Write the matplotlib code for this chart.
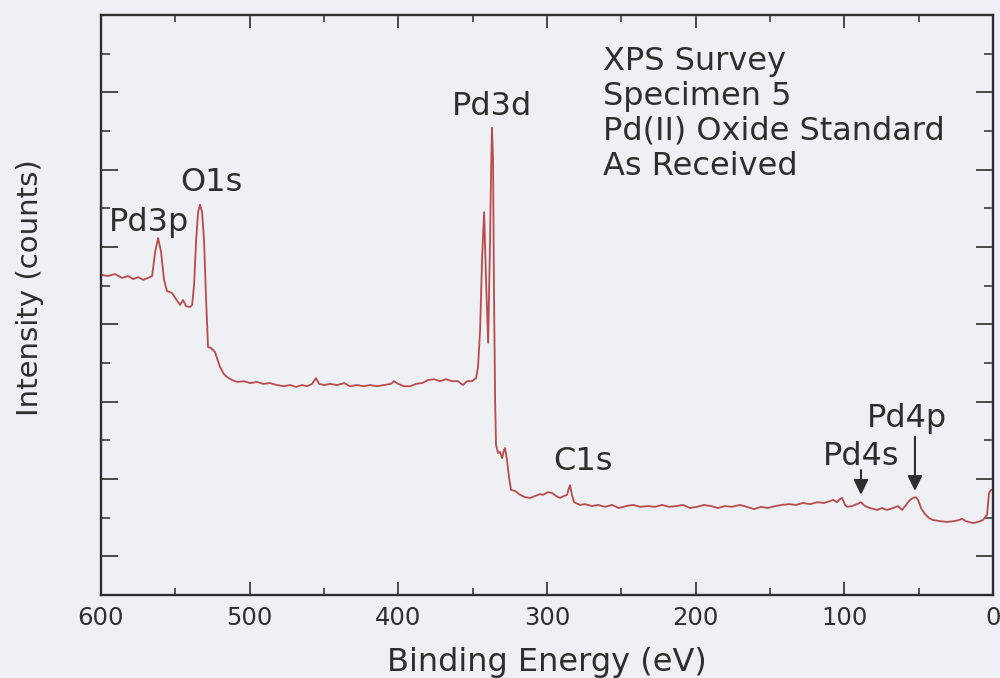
import matplotlib
matplotlib.use("Agg")
import matplotlib.pyplot as plt
from matplotlib.ticker import MultipleLocator, FixedLocator, NullFormatter
import numpy as np

# XPS survey, Pd(II) oxide standard, specimen 5 (as received)
binding_energy = [
    600.0, 595.3, 590.6, 585.8, 581.7, 578.4, 575.0, 571.7, 568.3, 565.6,
    563.6, 561.6, 559.6, 557.6, 555.6, 552.2, 549.5, 546.8, 544.8, 542.8,
    540.1, 538.7, 537.4, 536.0, 534.7, 533.4, 532.0, 530.7, 529.3, 528.0,
    526.0, 523.3, 520.0, 517.3, 515.3, 511.8, 508.4, 503.8, 499.7, 495.0,
    491.0, 486.3, 481.6, 476.9, 472.8, 468.8, 464.8, 461.4, 458.0, 455.4,
    453.3, 450.0, 446.0, 441.2, 436.5, 432.5, 427.8, 423.1, 419.0, 414.3,
    409.6, 404.9, 402.9, 400.2, 396.2, 392.1, 388.1, 384.1, 380.0, 376.0,
    372.0, 367.9, 363.9, 359.9, 356.5, 353.8, 350.4, 347.7, 346.4, 345.0,
    343.7, 342.3, 341.0, 339.6, 338.3, 337.6, 337.0, 336.3, 335.6, 334.9,
    334.3, 332.9, 331.6, 330.2, 328.9, 328.2, 326.9, 325.5, 324.2, 321.5,
    318.1, 314.8, 311.4, 308.1, 304.7, 302.7, 299.3, 296.6, 293.9, 291.3,
    288.6, 286.5, 285.2, 284.5, 283.2, 281.8, 277.8, 274.4, 269.7, 265.7,
    261.0, 256.3, 251.6, 246.9, 242.1, 237.4, 232.1, 227.4, 222.6, 217.9,
    213.2, 208.5, 203.8, 199.1, 194.4, 189.7, 185.0, 180.3, 175.6, 170.2,
    165.5, 160.8, 156.0, 151.3, 146.6, 141.9, 137.2, 132.5, 127.8, 123.1,
    118.4, 113.7, 109.6, 107.6, 104.9, 102.9, 101.6, 99.5, 98.2, 94.8,
    91.5, 88.8, 86.1, 82.7, 78.0, 74.7, 71.3, 67.3, 63.9, 61.2,
    58.5, 55.8, 53.8, 51.8, 50.4, 48.4, 45.7, 43.0, 40.4, 35.7,
    30.9, 26.2, 22.9, 20.9, 18.2, 13.5, 10.1, 6.7, 4.0, 2.7,
    1.3, 0.0,
]
intensity = [
    8.28, 8.25, 8.30, 8.20, 8.25, 8.17, 8.22, 8.15, 8.20, 8.25,
    8.87, 9.23, 8.87, 8.15, 7.86, 7.81, 7.65, 7.50, 7.63, 7.47,
    7.45, 7.50, 8.02, 9.18, 9.90, 10.09, 9.90, 9.18, 7.63, 6.41,
    6.39, 6.28, 5.90, 5.71, 5.64, 5.56, 5.51, 5.53, 5.48, 5.51,
    5.46, 5.48, 5.43, 5.40, 5.43, 5.38, 5.43, 5.40, 5.46, 5.61,
    5.46, 5.43, 5.46, 5.43, 5.48, 5.40, 5.43, 5.40, 5.43, 5.40,
    5.43, 5.46, 5.53, 5.46, 5.40, 5.40, 5.46, 5.48, 5.56, 5.58,
    5.53, 5.58, 5.53, 5.53, 5.43, 5.53, 5.53, 5.61, 5.90, 6.85,
    8.66, 9.90, 8.15, 6.52, 9.18, 10.99, 12.08, 11.25, 7.63, 5.04,
    3.88, 3.67, 3.70, 3.54, 3.75, 3.80, 3.49, 3.03, 2.72, 2.69,
    2.59, 2.53, 2.51, 2.56, 2.61, 2.59, 2.66, 2.64, 2.56, 2.51,
    2.56, 2.59, 2.77, 2.84, 2.59, 2.40, 2.33, 2.35, 2.30, 2.33,
    2.28, 2.33, 2.25, 2.30, 2.33, 2.28, 2.30, 2.28, 2.33, 2.28,
    2.30, 2.33, 2.25, 2.28, 2.33, 2.30, 2.25, 2.30, 2.28, 2.33,
    2.28, 2.22, 2.28, 2.25, 2.30, 2.33, 2.35, 2.33, 2.38, 2.35,
    2.40, 2.38, 2.43, 2.46, 2.40, 2.48, 2.51, 2.33, 2.28, 2.30,
    2.35, 2.40, 2.30, 2.25, 2.20, 2.25, 2.20, 2.25, 2.30, 2.20,
    2.33, 2.46, 2.51, 2.53, 2.46, 2.25, 2.09, 1.99, 1.94, 1.91,
    1.89, 1.91, 1.94, 1.97, 1.91, 1.86, 1.89, 1.94, 2.07, 2.64,
    2.72, 2.72,
]

# peak labels: (text, energy of left edge, baseline height)
peak_labels = ["Pd3p", "O1s", "Pd3d", "C1s", "Pd4s", "Pd4p"]
label_x = [594.5, 546.9, 363.9, 296.0, 114.3, 84.8]
label_y = [9.41, 10.45, 12.41, 3.23, 3.36, 4.34]

# arrows pointing at the weak Pd 4s / 4p lines: (energy, tail, head)
arrow_energy = [88.8, 52.5]
arrow_tail = [3.23, 4.09]
arrow_head = [2.59, 2.69]

info_lines = ["XPS Survey", "Specimen 5", "Pd(II) Oxide Standard", "As Received"]

BG = "#eff0f4"
INK = "#2e2e2e"
TRACE = "#b94b4d"

plt.rcParams["font.family"] = ["DejaVu Sans"]

fig = plt.figure(figsize=(10.0, 6.78), dpi=100, facecolor=BG)
ax = fig.add_axes([0.101, 0.1224, 0.892, 0.8555])
ax.set_facecolor(BG)

ax.plot(binding_energy, intensity, color=TRACE, lw=1.3)

ax.set_xlim(600, 0)
ax.set_ylim(0, 15)

ax.xaxis.set_major_locator(MultipleLocator(100))
ax.xaxis.set_minor_locator(MultipleLocator(50))
ax.yaxis.set_major_locator(FixedLocator(np.arange(1, 15, 2)))
ax.yaxis.set_minor_locator(FixedLocator(np.arange(2, 15, 2)))
ax.yaxis.set_major_formatter(NullFormatter())

ax.tick_params(axis="x", which="major", direction="in", length=9.5, width=1.2,
               top=True, bottom=True, colors=INK, labelsize=17.5, pad=8)
ax.tick_params(axis="x", which="minor", direction="in", length=5, width=1.1,
               top=True, bottom=True, colors=INK)
ax.tick_params(axis="y", which="major", direction="in", length=12.5, width=1.2,
               left=True, right=True, colors=INK)
ax.tick_params(axis="y", which="minor", direction="in", length=6.5, width=1.1,
               left=True, right=True, colors=INK)

for sp in ax.spines.values():
    sp.set_linewidth(1.7)
    sp.set_color(INK)

ax.set_xlabel("Binding Energy (eV)", fontsize=23, color=INK, labelpad=12)
ax.set_ylabel("Intensity (counts)", fontsize=21, color=INK)
ax.yaxis.set_label_coords(-0.064, 0.53)

for txt, x, y in zip(peak_labels, label_x, label_y):
    ax.text(x, y, txt, fontsize=23, color=INK, ha="left", va="baseline")

for e, t, h in zip(arrow_energy, arrow_tail, arrow_head):
    ax.annotate("", xy=(e, h), xytext=(e, t),
                arrowprops=dict(arrowstyle="-|>,head_length=0.45,head_width=0.22",
                                color=INK, lw=1.5, shrinkA=0, shrinkB=0,
                                mutation_scale=20))

for i, line in enumerate(info_lines):
    ax.text(262.3, 13.58 - i * 0.905, line, fontsize=23, color=INK,
            ha="left", va="baseline")

fig.savefig("out.png", dpi=100, facecolor=BG)
